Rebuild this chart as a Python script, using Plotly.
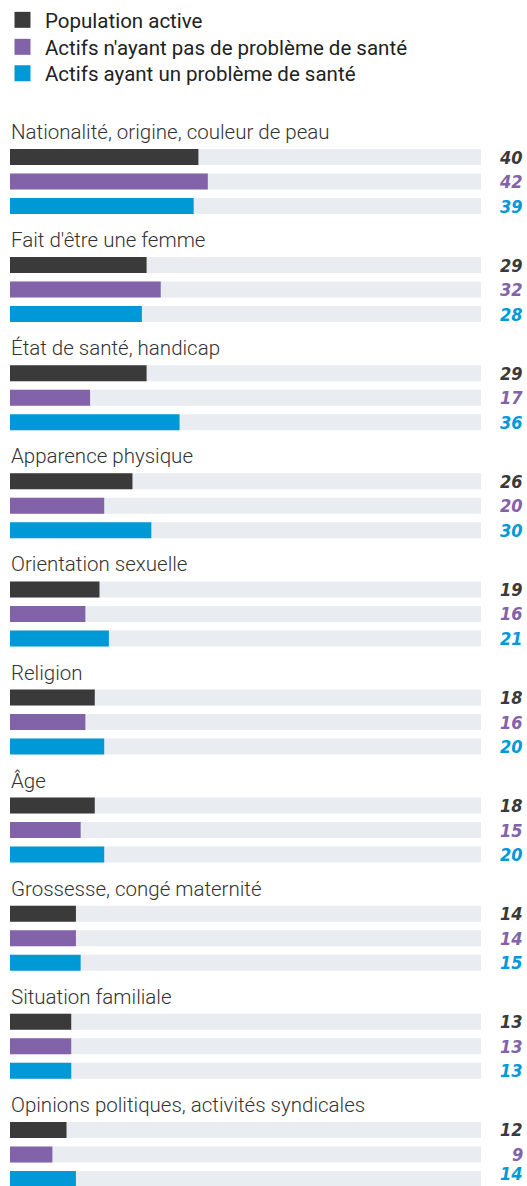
import plotly.graph_objects as go

categories = [
    "Nationalité, origine, couleur de peau",
    "Fait d'être une femme",
    "État de santé, handicap",
    "Apparence physique",
    "Orientation sexuelle",
    "Religion",
    "Âge",
    "Grossesse, congé maternité",
    "Situation familiale",
    "Opinions politiques, activités syndicales",
]
series_names = [
    "Population active",
    "Actifs n'ayant pas de problème de santé",
    "Actifs ayant un problème de santé",
]
population_active = [40, 29, 29, 26, 19, 18, 18, 14, 13, 12]
sans_probleme = [42, 32, 17, 20, 16, 16, 15, 14, 13, 9]
avec_probleme = [39, 28, 36, 30, 21, 20, 20, 15, 13, 14]
track_max = 100

series_values = [population_active, sans_probleme, avec_probleme]
colors = ["#3a3a3a", "#8262a8", "#0099d8"]
track_color = "#e9ecf1"

W, H = 527, 1186
group_pitch = 108.1
row_pitch = 24.5
first_row = 157
title_offset = 25
bar_h = 16
legend_rows = [20, 47, 73.5]

fig = go.Figure()

rows = {k: [first_row + g * group_pitch + k * row_pitch for g in range(len(categories))] for k in range(3)}
all_rows = rows[0] + rows[1] + rows[2]

fig.add_trace(go.Bar(
    x=[track_max] * len(all_rows), y=all_rows, orientation="h",
    width=bar_h, marker=dict(color=track_color, line=dict(width=0)),
    showlegend=False, hoverinfo="skip",
))

legend_ids = ["legend", "legend2", "legend3"]
for k in range(3):
    fig.add_trace(go.Bar(
        x=series_values[k], y=rows[k], orientation="h", width=bar_h,
        marker=dict(color=colors[k], line=dict(width=0)),
        name=series_names[k], showlegend=False,
    ))
    fig.add_trace(go.Scatter(
        x=[None], y=[None], mode="markers",
        marker=dict(symbol="square", size=16, color=colors[k]),
        name=series_names[k], showlegend=True, legend=legend_ids[k],
    ))

annotations = []
for g, cat in enumerate(categories):
    annotations.append(dict(
        x=9 / W, xref="paper", xanchor="left",
        y=first_row + g * group_pitch - title_offset, yref="y", yanchor="middle",
        text=cat, showarrow=False,
        font=dict(family="Roboto", size=20.5, color="#333333", weight=300),
    ))
    for k in range(3):
        annotations.append(dict(
            x=525 / W, xref="paper", xanchor="right",
            y=min(rows[k][g], H - 12.5), yref="y", yanchor="middle",
            text=str(series_values[k][g]), showarrow=False,
            font=dict(family="DejaVu Sans Condensed, Roboto, sans-serif", size=18,
                      color=colors[k], weight="bold", style="italic"),
        ))

legend_style = dict(
    x=0.0, xanchor="left", yanchor="middle",
    font=dict(family="Roboto", size=20.5, color="#222222"),
    bgcolor="rgba(0,0,0,0)", itemwidth=35,
)

fig.update_layout(
    width=W, height=H,
    margin=dict(l=0, r=0, t=0, b=0),
    paper_bgcolor="white", plot_bgcolor="white",
    barmode="overlay",
    xaxis=dict(domain=[10 / W, 481 / W], range=[0, track_max], visible=False, fixedrange=True),
    yaxis=dict(range=[H, 0], visible=False, fixedrange=True),
    annotations=annotations,
    legend=dict(y=1 - legend_rows[0] / H, **legend_style),
    legend2=dict(y=1 - legend_rows[1] / H, **legend_style),
    legend3=dict(y=1 - legend_rows[2] / H, **legend_style),
)

fig.write_html("out.html", config={"displayModeBar": False},
               post_script="document.body.style.margin='0';")
